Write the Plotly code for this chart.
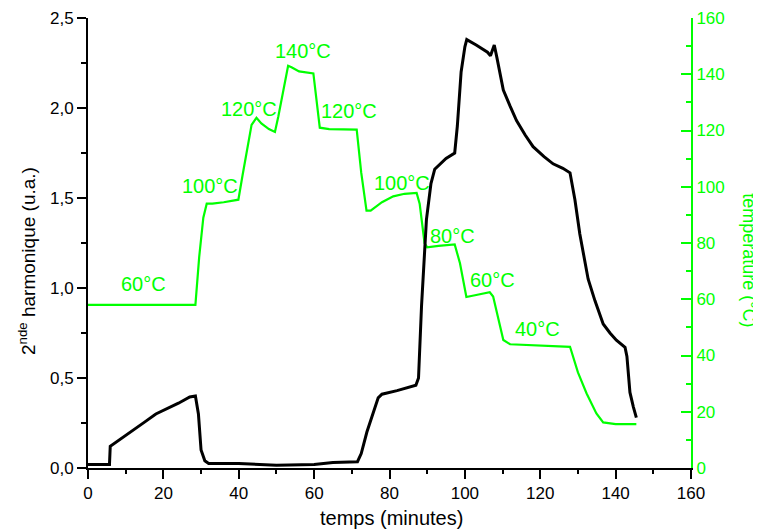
import plotly.graph_objects as go

# ---- data ----
harm_time = [0, 5.7, 5.9, 8, 10, 12, 15, 18, 21, 24, 27, 28.5, 29.3, 30, 31, 32, 40, 50, 60, 65,
             71.5, 72.5, 74, 75.7, 77, 78, 82, 87, 87.7, 88.5, 89.8, 91, 92, 95, 97.3, 98, 99, 100,
             100.5, 103, 106, 106.8, 107.8, 108.5, 110.2, 112, 113.7, 116, 118.1, 121, 123.4, 126,
             127.9, 129.2, 130.5, 132.7, 134.5, 136.7, 138.5, 140.2, 142.5, 143, 143.8, 144.7, 145.5]
harm_value = [0.02, 0.02, 0.12, 0.15, 0.18, 0.21, 0.255, 0.30, 0.33, 0.36, 0.395, 0.40, 0.30, 0.10,
              0.04, 0.025, 0.025, 0.015, 0.02, 0.03, 0.035, 0.08, 0.20, 0.31, 0.39, 0.41, 0.43, 0.46,
              0.50, 0.90, 1.38, 1.58, 1.66, 1.72, 1.75, 1.90, 2.20, 2.34, 2.38, 2.35, 2.31, 2.29, 2.35,
              2.28, 2.10, 2.01, 1.93, 1.85, 1.785, 1.73, 1.69, 1.665, 1.64, 1.49, 1.30, 1.05, 0.93,
              0.80, 0.75, 0.71, 0.67, 0.62, 0.42, 0.34, 0.28]

temp_time = [0, 28, 28.5, 29.5, 30.6, 31.5, 33, 36, 39.9, 41, 43.4, 44.7, 46, 48, 49.6, 50.5, 53.1,
             54, 56, 59.8, 60.5, 61.5, 64, 71.3, 72.5, 73.9, 75, 78, 81, 84, 87.2, 88, 89.3, 90, 93,
             96, 97.3, 98.7, 100.4, 103, 106.6, 107.5, 110.2, 112, 116.4, 122, 127.9, 130, 132.3,
             134.9, 136.7, 140, 145.5]
temp_value = [58, 58, 58, 75, 89, 94, 94, 94.5, 95.4, 104, 122, 124.5, 122.5, 120.5, 119.5, 125, 143,
              142.5, 141, 140.3, 132, 121, 120.5, 120.3, 105, 91.5, 91.5, 94.5, 96.6, 97.5, 97.8, 94,
              80, 78.5, 79, 79.5, 79.5, 72.8, 60.8, 61.5, 62.5, 61, 45.5, 44, 43.7, 43.3, 43.1, 34,
              26.5, 19.4, 16.2, 15.6, 15.6]

label_text = ["60°C", "100°C", "120°C", "140°C", "120°C", "100°C", "80°C", "60°C", "40°C"]
label_time = [14.6, 32.4, 42.8, 57.0, 69.2, 83.3, 96.8, 107.4, 119.4]
label_temp = [65.4, 100.1, 127.5, 148.3, 126.9, 101.4, 82.6, 66.9, 49.3]

harm_ticks = [0, 0.5, 1.0, 1.5, 2.0, 2.5]
harm_ticktext = ["0,0", "0,5", "1,0", "1,5", "2,0", "2,5"]

GREEN = "#00FF00"
FONT = "Liberation Sans, Arial, sans-serif"

fig = go.Figure()
fig.add_trace(go.Scatter(x=temp_time, y=temp_value, mode="lines", yaxis="y",
                         line=dict(color=GREEN, width=2.2), showlegend=False))
fig.add_trace(go.Scatter(x=harm_time, y=harm_value, mode="lines", yaxis="y2",
                         line=dict(color="black", width=3), showlegend=False))

annotations = []
for txt, t, v in zip(label_text, label_time, label_temp):
    annotations.append(dict(x=t, y=v, xref="x", yref="y", text=txt, showarrow=False,
                            font=dict(family=FONT, size=20, color=GREEN),
                            xanchor="center", yanchor="middle"))

annotations.append(dict(x=-0.101, y=0.46, xref="paper", yref="paper",
                        text="2<sup>nde</sup> harmonique (u.a.)", showarrow=False, textangle=-90,
                        font=dict(family=FONT, size=19, color="black"),
                        xanchor="center", yanchor="middle"))
annotations.append(dict(x=1.096, y=0.462, xref="paper", yref="paper",
                        text="température (°C)", showarrow=False, textangle=90,
                        font=dict(family=FONT, size=18, color=GREEN),
                        xanchor="center", yanchor="middle"))
annotations.append(dict(x=0.5025, y=-0.112, xref="paper", yref="paper",
                        text="temps (minutes)", showarrow=False,
                        font=dict(family=FONT, size=20, color="black"),
                        xanchor="center", yanchor="middle"))

# the page body adds an 8px offset, so the figure is 8px smaller on each side
fig.update_layout(
    template="none",
    width=753, height=523,
    margin=dict(l=80, r=70, t=10, b=63, autoexpand=False),
    paper_bgcolor="white", plot_bgcolor="white",
    font=dict(family=FONT, size=17, color="black"),
    annotations=annotations,
    xaxis=dict(range=[0, 160], tickmode="linear", tick0=0, dtick=20, automargin=False,
               showline=True, linecolor="black", linewidth=2,
               ticks="outside", ticklen=9, tickwidth=2, tickcolor="black",
               minor=dict(tickmode="linear", tick0=0, dtick=10, ticks="outside",
                          ticklen=4, tickwidth=2, tickcolor="black"),
               showgrid=False, zeroline=False,
               tickfont=dict(family=FONT, size=17, color="black")),
    yaxis=dict(range=[0, 160], side="right", tickmode="linear", tick0=0, dtick=20,
               automargin=False,
               showline=True, linecolor=GREEN, linewidth=2,
               ticks="inside", ticklen=10, tickwidth=2, tickcolor=GREEN,
               minor=dict(tickmode="linear", tick0=0, dtick=10, ticks="inside",
                          ticklen=5, tickwidth=2, tickcolor=GREEN),
               showgrid=False, zeroline=False,
               tickfont=dict(family=FONT, size=17, color=GREEN)),
    yaxis2=dict(range=[0, 2.5], side="left", overlaying="y", automargin=False,
                tickmode="array", tickvals=harm_ticks, ticktext=harm_ticktext,
                showline=True, linecolor="black", linewidth=2,
                ticks="outside", ticklen=9, tickwidth=2, tickcolor="black",
                minor=dict(tickmode="linear", tick0=0, dtick=0.25, ticks="outside",
                           ticklen=5, tickwidth=2, tickcolor="black"),
                showgrid=False, zeroline=False,
                tickfont=dict(family=FONT, size=17, color="black")),
)

fig.write_html("out.html")
